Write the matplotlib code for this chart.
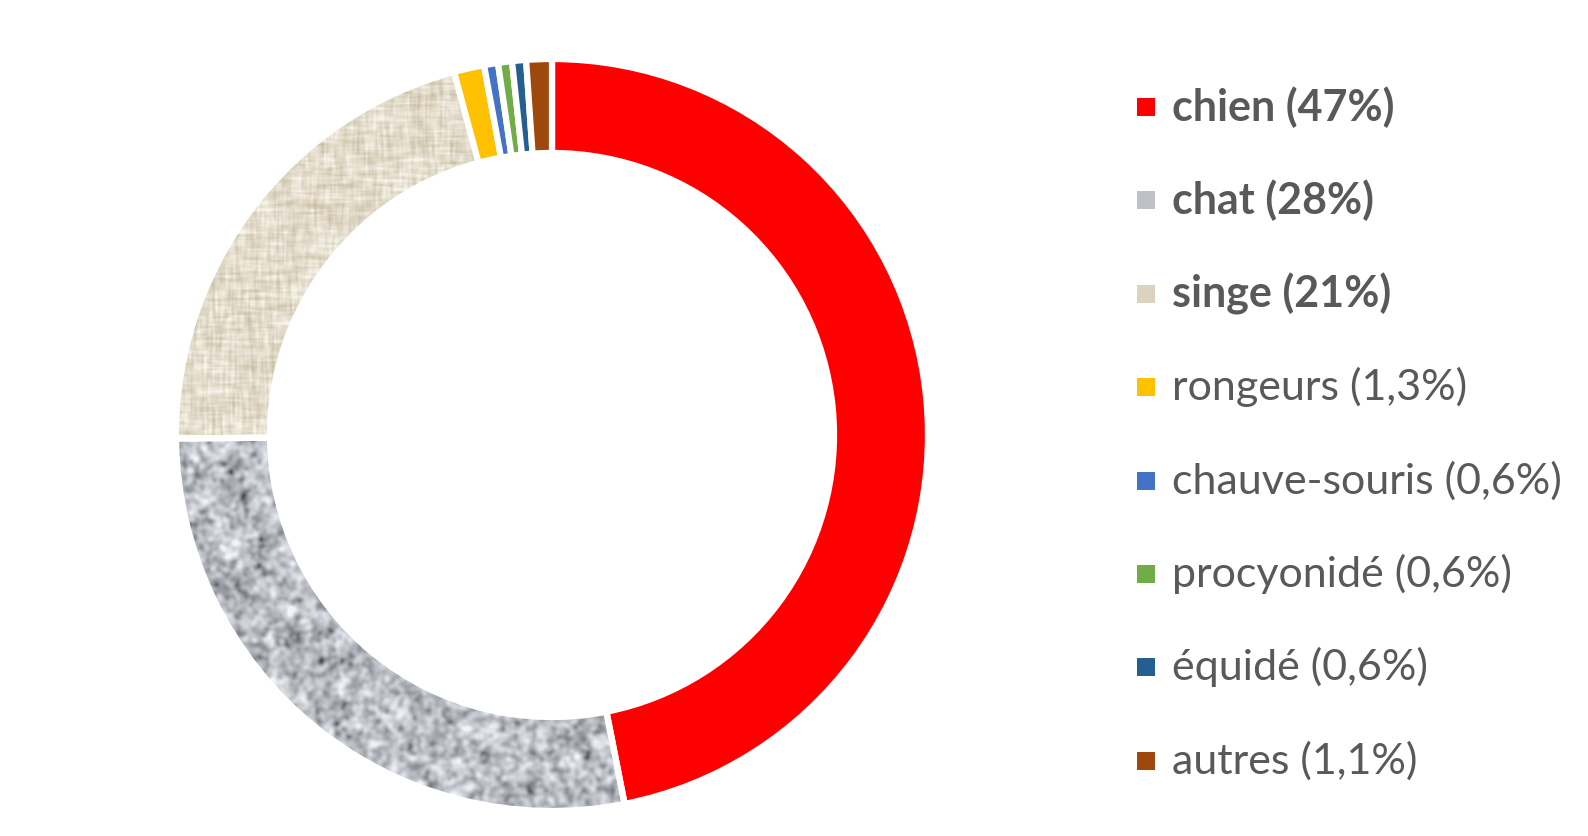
import numpy as np
import matplotlib
matplotlib.use("Agg")
import matplotlib.pyplot as plt
from matplotlib.patches import Rectangle

labels = ["chien", "chat", "singe", "rongeurs", "chauve-souris", "procyonidé", "équidé", "autres"]
shares = [47, 28, 21, 1.3, 0.6, 0.6, 0.6, 1.1]
colors = ["#FF0000", "#B4B6BC", "#DDD2BA", "#FFC000", "#4472C4", "#70AD47", "#255E91", "#9E480E"]
bold_rows = [True, True, True, False, False, False, False, False]

W_PX, H_PX = 1588, 836
fig = plt.figure(figsize=(W_PX / 100, H_PX / 100), dpi=100)
ax = fig.add_axes([0, 0, 1, 1])

cx, cy = 552, H_PX - 435
R, ring = 376, 94

wedges, _ = ax.pie(shares, colors=colors, startangle=90, counterclock=False,
                   center=(cx, cy), radius=R,
                   wedgeprops=dict(width=ring, edgecolor="white", linewidth=4.5))


def blur(a, sx, sy=None):
    if sy is None:
        sy = sx
    h, w = a.shape
    fy = np.fft.fftfreq(h)[:, None]
    fx = np.fft.fftfreq(w)[None, :]
    g = np.exp(-2 * np.pi ** 2 * ((sx * fx) ** 2 + (sy * fy) ** 2))
    return np.real(np.fft.ifft2(np.fft.fft2(a) * g))


def norm(a):
    return (a - a.min()) / (a.max() - a.min())


rng = np.random.default_rng(7)
n = 2 * R

# granite-like grey fill
fine = norm(blur(rng.random((n, n)), 2.2))
coarse = norm(blur(rng.random((n, n)), 5.0))
v = 0.6 * fine + 0.4 * coarse
v = np.clip((v - 0.22) / 0.5, 0, 1) ** 0.65
grey = np.stack([80 + 162 * v, 82 + 162 * v, 88 + 164 * v], axis=-1) / 255
grey = np.clip(grey, 0, 1)

# woven beige fill
horiz = norm(blur(rng.random((n, n)), 7.0, 0.9))
vert = norm(blur(rng.random((n, n)), 0.9, 7.0))
spots = norm(blur(rng.random((n, n)), 2.0))
b = norm(0.38 * horiz + 0.38 * vert + 0.24 * spots)
b = np.clip((b - 0.18) / 0.6, 0, 1)
dark = np.array([204, 193, 168]) / 255
light = np.array([247, 243, 233]) / 255
beige = dark + (light - dark) * b[..., None]

extent = (cx - R, cx + R, cy - R, cy + R)
for idx, tex in ((1, grey), (2, beige)):
    wedges[idx].set_facecolor("none")
    im = ax.imshow(tex, extent=extent, origin="lower", zorder=0.5,
                   interpolation="bilinear")
    im.set_clip_path(wedges[idx])

ax.set_xlim(0, W_PX)
ax.set_ylim(0, H_PX)
ax.set_aspect("equal")
ax.axis("off")

legend_colors = ["#FF0000", "#BFC1C7", "#DCD3BF", "#FFC000", "#4472C4", "#70AD47", "#255E91", "#9E480E"]
for j, (lab, val) in enumerate(zip(labels, shares)):
    y = H_PX - (107 + 93.4 * j)
    ax.add_patch(Rectangle((1137, y - 9), 18, 18, facecolor=legend_colors[j],
                           edgecolor="none"))
    txt = f"{lab} ({f'{val:g}'.replace('.', ',')}%)"
    ax.text(1172, y, txt, va="center", ha="left", fontsize=31,
            family="Lato", color="#595959",
            fontweight="bold" if bold_rows[j] else "normal")

fig.savefig("out.png", dpi=100)
